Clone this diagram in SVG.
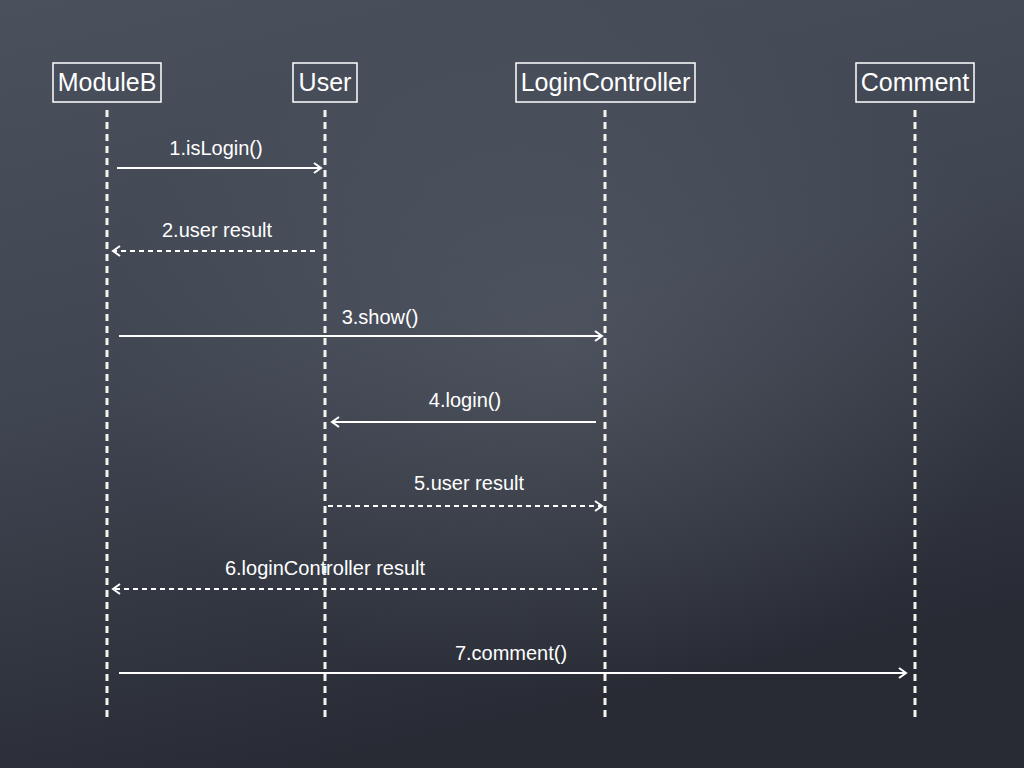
<svg xmlns="http://www.w3.org/2000/svg" width="1024" height="768" viewBox="0 0 1024 768">
<style>
.box{fill:none;stroke:#fff;stroke-width:1.5}
.name{font-family:"Liberation Sans",Arial,sans-serif;font-size:25px;fill:#fff;text-anchor:middle}
.life{stroke:#f4f4ec;stroke-width:3;stroke-dasharray:7 5}
.msg{stroke:#fff;stroke-width:2;fill:none}
.dash{stroke-dasharray:5 4}
.lbl{font-family:"Liberation Sans",Arial,sans-serif;font-size:20px;fill:#fff;text-anchor:middle}
</style>
<defs>
<linearGradient id="bg" x1="0" y1="0" x2="0.3" y2="1">
<stop offset="0" stop-color="#4a505c"/>
<stop offset="0.5" stop-color="#3f4551"/>
<stop offset="1" stop-color="#282b34"/>
</linearGradient>
<radialGradient id="glow" cx="0.55" cy="0.45" r="0.45">
<stop offset="0" stop-color="#6a707a" stop-opacity="0.35"/>
<stop offset="1" stop-color="#6a707a" stop-opacity="0"/>
</radialGradient>
<marker id="ah" markerWidth="12" markerHeight="12" refX="10" refY="6" orient="auto" markerUnits="userSpaceOnUse">
<path d="M3,1 L10,6 L3,11" fill="none" stroke="#fff" stroke-width="2"/>
</marker>
</defs>
<rect width="1024" height="768" fill="url(#bg)"/>
<rect width="1024" height="768" fill="url(#glow)"/>
<g id="ModuleB"><rect class="box" x="53" y="63" width="108" height="39"/><text class="name" x="107" y="91">ModuleB</text><line class="life" x1="107" y1="110" x2="107" y2="718"/></g>
<g id="User"><rect class="box" x="293" y="63" width="64" height="39"/><text class="name" x="325" y="91">User</text><line class="life" x1="325" y1="110" x2="325" y2="718"/></g>
<g id="LoginController"><rect class="box" x="516" y="63" width="179" height="39"/><text class="name" x="605.5" y="91">LoginController</text><line class="life" x1="605" y1="110" x2="605" y2="718"/></g>
<g id="Comment"><rect class="box" x="856" y="63" width="118" height="39"/><text class="name" x="915" y="91">Comment</text><line class="life" x1="915" y1="110" x2="915" y2="718"/></g>
<g id="connectors">
<line class="msg" x1="117" y1="168" x2="321" y2="168" marker-end="url(#ah)"/>
<text class="lbl" x="216" y="155">1.isLogin()</text>
<line class="msg dash" x1="315" y1="251" x2="113" y2="251" marker-end="url(#ah)"/>
<text class="lbl" x="217" y="237">2.user result</text>
<line class="msg" x1="119" y1="336" x2="602" y2="336" marker-end="url(#ah)"/>
<text class="lbl" x="380" y="324">3.show()</text>
<line class="msg" x1="596" y1="422" x2="332" y2="422" marker-end="url(#ah)"/>
<text class="lbl" x="465" y="407">4.login()</text>
<line class="msg dash" x1="328" y1="506" x2="602" y2="506" marker-end="url(#ah)"/>
<text class="lbl" x="469" y="490">5.user result</text>
<line class="msg dash" x1="597" y1="589" x2="113" y2="589" marker-end="url(#ah)"/>
<text class="lbl" x="325" y="575">6.loginController result</text>
<line class="msg" x1="119" y1="673" x2="906" y2="673" marker-end="url(#ah)"/>
<text class="lbl" x="511" y="660">7.comment()</text>
</g>
</svg>
